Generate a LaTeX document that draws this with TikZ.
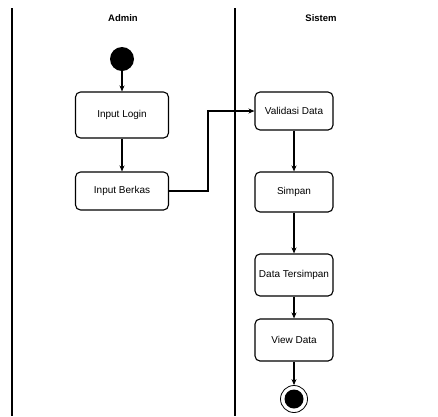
\documentclass[tikz,border=0pt]{standalone}
\usepackage{fontspec}
\setsansfont{Liberation Sans}
\usetikzlibrary{arrows.meta}
\tikzset{
  lane/.style={line width=1.8pt},
  action/.style={draw, line width=1.1pt, rounded corners=5pt, minimum width=78pt,
    minimum height=40pt, align=center, font=\sffamily\fontsize{10}{11}\selectfont},
  flow/.style={line width=1.1pt, -{Stealth[length=6pt,width=5pt]}},
  lanetitle/.style={font=\sffamily\bfseries\fontsize{9.5}{10}\selectfont},
}
\begin{document}
\begin{tikzpicture}[x=1pt,y=-1pt]
\useasboundingbox (0,0) rectangle (438,416);
\clip (0,0) rectangle (438,416);
\fill[white] (0,0) rectangle (438,416);

% swimlanes
\draw[lane] (12,8) -- (12,416);
\draw[lane] (235,8) -- (235,416);
\node[lanetitle] (admin) at (123,18) {Admin};
\node[lanetitle] (sistem) at (321,18) {Sistem};

% admin lane
\node[circle, fill=black, minimum size=24pt, inner sep=0pt] (start) at (122,59) {};
\node[action, minimum width=93pt, minimum height=46pt] (login) at (122,115) {Input Login};
\node[action, minimum width=93pt, minimum height=38pt] (berkas) at (122,191) {Input Berkas};

% system lane
\node[action, minimum height=38pt] (valid) at (294,111) {Validasi Data};
\node[action] (simpan) at (294,192) {Simpan};
\node[action, minimum height=42pt] (tersimpan) at (294,275) {Data Tersimpan};
\node[action, minimum height=42pt] (view) at (294,340) {View Data};
\node[circle, draw, line width=0.8pt, minimum size=27pt, inner sep=0pt] (end) at (294,399) {};
\node[circle, fill=black, minimum size=19pt, inner sep=0pt] at (end.center) {};

% control flow
\draw[flow] (start) -- (login);
\draw[flow] (login) -- (berkas);
\draw[flow] (berkas.east) -- (208,191) |- (valid.west);
\draw[flow] (valid) -- (simpan);
\draw[flow] (simpan) -- (tersimpan);
\draw[flow] (tersimpan) -- (view);
\draw[flow] (view) -- (end);
\end{tikzpicture}
\end{document}
